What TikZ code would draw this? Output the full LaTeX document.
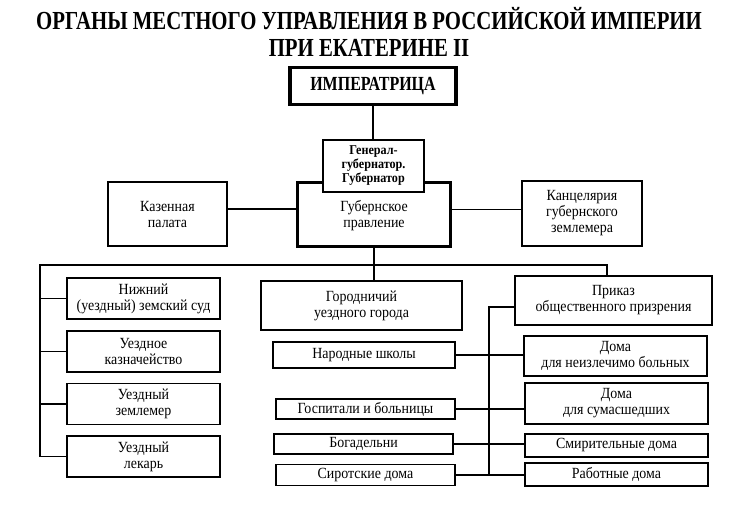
\documentclass[tikz,border=0pt]{standalone}
\usepackage{fontspec}
\setmainfont{Liberation Serif}[FakeStretch=0.9]
\newfontfamily\titlefont{Liberation Serif}[FakeStretch=0.8]
\usetikzlibrary{arrows}

\begin{document}
\begin{tikzpicture}[x=1pt,y=-1pt,line width=1.2pt,
                box/.style={draw,line width=1.2pt,fill=white,inner sep=0pt,align=center,font=\fontsize{15.5}{16}\selectfont}]
                \useasboundingbox (0,0) rectangle (741,525);
                \node[align=center,font=\titlefont\bfseries\fontsize{26}{27}\selectfont] (title) at (369,32) {ОРГАНЫ МЕСТНОГО УПРАВЛЕНИЯ В РОССИЙСКОЙ ИМПЕРИИ\\ПРИ ЕКАТЕРИНЕ II};
                \node[box,line width=3.6pt,minimum width=166,minimum height=37,font=\titlefont\bfseries\fontsize{20}{22}\selectfont] (imp) at (373,86) {ИМПЕРАТРИЦА};
                \node[box,line width=2.6pt,minimum width=153,minimum height=64] (gub) at (374,214.5) {\\[-3pt]Губернское\\правление};
                \node[box,line width=2.8pt,minimum width=101,minimum height=52,font=\bfseries\fontsize{13.5}{14}\selectfont] (gen) at (373.5,166) {Генерал-\\губернатор.\\Губернатор};
                \node[box,minimum width=119,minimum height=64] (kaz) at (167.5,214) {Казенная\\палата};
                \node[box,minimum width=120,minimum height=65] (kanc) at (582,213.5) {Канцелярия\\губернского\\землемера};
                \node[box,minimum width=153,minimum height=41] (sud) at (143.5,298.5) {Нижний\\(уездный) земский суд};
                \node[box,minimum width=153,minimum height=41] (kazn) at (143.5,351.5) {Уездное\\казначейство};
                \node[box,minimum width=153,minimum height=41] (zeml) at (143.5,404) {Уездный\\землемер};
                \node[box,minimum width=153,minimum height=41] (lek) at (143.5,456.5) {Уездный\\лекарь};
                \node[box,minimum width=201,minimum height=49] (gor) at (361.5,305.5) {Городничий\\уездного города};
                \node[box,minimum width=182,minimum height=26] (shk) at (364,355) {Народные школы};
                \node[box,minimum width=179,minimum height=20] (gosp) at (365.5,409) {Госпитали и больницы};
                \node[box,minimum width=179,minimum height=20] (bog) at (363.5,444) {Богадельни};
                \node[box,minimum width=179,minimum height=21] (sir) at (365.5,475) {Сиротские дома};
                \node[box,minimum width=197,minimum height=49] (prik) at (613.5,300.5) {Приказ\\общественного призрения};
                \node[box,minimum width=183,minimum height=40] (neizl) at (615.5,356) {Дома\\для неизлечимо больных};
                \node[box,minimum width=183,minimum height=41] (sum) at (616.5,403.5) {Дома\\для сумасшедших};
                \node[box,minimum width=183,minimum height=23] (smir) at (616.5,445.5) {Смирительные дома};
                \node[box,minimum width=183,minimum height=23] (rab) at (616.5,474.5) {Работные дома};
                \coordinate (bl) at (40,265);
                \coordinate (br) at (607,265);
                \coordinate (pv) at (489,307);
                \draw (imp.south) -- (imp.south |- gen.north);
                \draw ([yshift=5pt]kaz.east) -- ([yshift=5pt]kaz.east -| gub.west);
                \draw ([yshift=5pt]gub.east) -- ([yshift=5pt]gub.east -| kanc.west);
                \draw (gub.south) -- (gub.south |- gor.north);
                \draw (bl |- lek) -- (bl) -- (br) -- (br |- prik.north);
                \foreach \n in {sud,kazn,zeml,lek}
                    \draw (bl |- \n) -- (\n.west);
                \draw (pv -| prik.west) -- (pv) -- (pv |- sir);
                \foreach \a/\b in {shk/neizl,gosp/sum,bog/smir,sir/rab}
                    \draw (\a.east) -- (\a.east -| \b.west);
            \end{tikzpicture}
\end{document}
